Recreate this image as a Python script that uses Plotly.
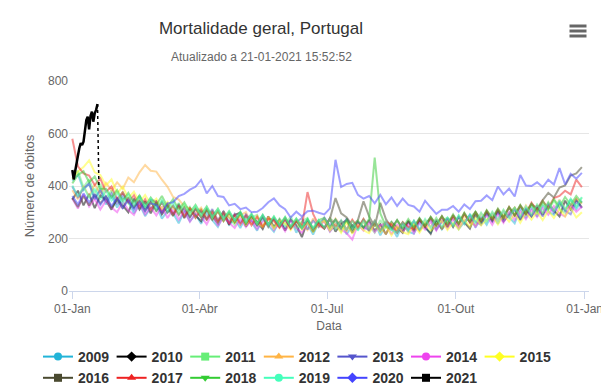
import plotly.graph_objects as go
import pandas as pd

# The page body adds an 8px margin, so the figure is drawn 8px smaller and
# every reference pixel position is converted with OFF.
OFF = 8
W, H = 609 - OFF, 389 - OFF
PLOT_L, PLOT_R, PLOT_T, PLOT_B = 69, 589, 81, 291          # reference pixels
ML = PLOT_L - OFF
MR = W - (PLOT_R - OFF)
MT = PLOT_T - OFF
MB = H - (PLOT_B - OFF)
PW = PLOT_R - PLOT_L
PH = PLOT_B - PLOT_T


def fx(px):
    return (px - PLOT_L) / PW


def fy(py):
    return (PLOT_B - py) / PH


def cx(px):
    return (px - OFF) / W


def cy(py):
    return 1 - (py - OFF) / H


FONT = "Liberation Sans, Arial, sans-serif"

# ---------------- data ----------------
BASE = pd.Timestamp("2020-01-01")
step_days = list(range(0, 365, 4))          # one reading every 4 days
dates = [BASE + pd.Timedelta(days=d) for d in step_days]
dates_2021 = [BASE + pd.Timedelta(days=d) for d in range(20)]

years = [2009, 2010, 2011, 2012, 2013, 2014, 2015, 2016, 2017, 2018, 2019, 2020, 2021]

colors = {
    2009: "#22b4d8", 2010: "#000000", 2011: "#66ee77", 2012: "#ffb444",
    2013: "#5555cc", 2014: "#ee44ee", 2015: "#ffff22", 2016: "#4a4a30",
    2017: "#ee2222", 2018: "#33cc33", 2019: "#44ffbb", 2020: "#4444ff",
    2021: "#000000",
}
symbols = {
    2009: "circle", 2010: "diamond", 2011: "square", 2012: "triangle-up",
    2013: "triangle-down", 2014: "circle", 2015: "diamond", 2016: "square",
    2017: "triangle-up", 2018: "triangle-down", 2019: "circle", 2020: "diamond",
    2021: "square",
}

# rows: Jan, Feb, Mar, Apr, May, Jun, Jul, Aug, Sep, Oct, Nov, Dec
y2009 = [420, 445, 385, 410, 350, 392, 330, 362,
         318, 356, 342, 296, 330, 285, 318,
         326, 276, 305, 296, 258, 304, 266, 292,
         256, 296, 270, 244, 290, 252, 274,
         240, 284, 262, 230, 276, 250, 226, 268,
         240, 275, 222, 262, 254, 215, 262,
         270, 228, 252, 266, 216, 250, 236, 272,
         228, 262, 212, 250, 244, 206, 258, 226,
         218, 264, 240, 222, 270, 234, 262,
         278, 236, 264, 290, 242, 282, 252, 296,
         256, 302, 282, 258, 316, 278, 320,
         284, 326, 302, 290, 340, 306, 350, 312, 344]
y2010 = [348, 382, 326, 370, 316, 364, 346, 310,
         352, 326, 300, 352, 310, 342, 296,
         338, 292, 322, 286, 332, 278, 316, 288,
         266, 312, 284, 258, 304, 252, 290,
         298, 246, 280, 264, 236, 284, 244, 272,
         230, 272, 250, 205, 268, 226, 262,
         238, 276, 226, 256, 270, 222, 262, 240,
         268, 230, 254, 216, 262, 240, 222, 266,
         228, 270, 246, 218, 272, 236, 278,
         244, 282, 262, 238, 292, 256, 298, 266,
         304, 266, 290, 316, 270, 310, 284,
         326, 290, 334, 306, 284, 344, 310, 348, 318]
y2011 = [430, 458, 395, 425, 372, 408, 352, 384,
         340, 378, 334, 315, 364, 312, 350,
         302, 344, 318, 290, 336, 286, 320, 280,
         314, 270, 306, 258, 298, 280, 252,
         296, 252, 280, 290, 244, 280, 238, 276,
         250, 284, 236, 266, 278, 230, 270,
         240, 278, 258, 228, 274, 246, 234, 274,
         248, 222, 270, 240, 264, 220, 262, 238,
         268, 230, 258, 278, 236, 268, 280,
         248, 288, 262, 282, 300, 256, 294, 272,
         308, 270, 298, 318, 280, 310, 326,
         290, 332, 308, 344, 312, 298, 350, 322, 356]
y2012 = [384, 350, 400, 360, 406, 370, 412, 384,
         414, 390, 432, 414, 452, 480, 458,
         455, 424, 397, 358, 348, 322, 316, 298,
         318, 278, 306, 270, 302, 280, 262,
         288, 300, 254, 286, 248, 282, 264, 240,
         278, 240, 272, 252, 232, 276, 244,
         268, 236, 276, 248, 228, 268, 240, 262,
         228, 264, 242, 218, 258, 234, 262, 224,
         258, 230, 270, 244, 278, 238, 266,
         280, 244, 288, 262, 250, 296, 266, 300,
         270, 308, 280, 318, 288, 326, 292,
         328, 296, 338, 306, 348, 312, 324, 352, 332]
y2013 = [398, 358, 390, 410, 350, 384, 340, 372,
         330, 368, 340, 318, 360, 314, 346,
         342, 302, 334, 294, 324, 308, 282, 312,
         302, 274, 312, 268, 302, 262, 294,
         260, 292, 268, 250, 288, 256, 274, 244,
         270, 238, 262, 278, 234, 268, 244,
         280, 250, 272, 240, 276, 236, 262, 244,
         232, 264, 228, 258, 240, 222, 260, 232,
         266, 232, 256, 272, 234, 264, 274,
         250, 282, 256, 290, 264, 252, 296, 264,
         300, 266, 290, 308, 276, 314, 284,
         318, 284, 328, 298, 338, 306, 292, 342, 316]
y2014 = [352, 314, 368, 322, 350, 310, 344, 318,
         300, 340, 308, 290, 334, 292, 318,
         288, 322, 278, 312, 272, 304, 264, 296,
         284, 254, 296, 248, 282, 260, 240,
         276, 244, 270, 236, 264, 274, 232, 262,
         228, 268, 240, 222, 262, 234, 256,
         264, 226, 256, 234, 220, 196, 254, 230,
         260, 224, 250, 258, 216, 252, 226, 254,
         220, 258, 234, 264, 230, 268, 238,
         274, 240, 268, 280, 244, 276, 286, 252,
         292, 260, 300, 270, 304, 274, 310,
         282, 316, 290, 324, 294, 284, 328, 302, 322]
y2015 = [425, 455, 472, 498, 452, 442, 402, 425,
         372, 398, 354, 378, 338, 366, 330,
         352, 312, 340, 316, 296, 330, 290, 318,
         282, 312, 274, 304, 266, 296, 260,
         290, 252, 282, 258, 244, 276, 238, 268,
         258, 232, 268, 234, 260, 226, 256,
         268, 230, 254, 222, 262, 218, 252, 232,
         220, 256, 224, 248, 212, 246, 224, 216,
         252, 222, 258, 230, 254, 266, 232,
         260, 234, 272, 244, 278, 250, 272, 284,
         254, 290, 264, 294, 260, 298, 272,
         302, 270, 306, 278, 312, 284, 316, 280, 300]
y2016 = [354, 320, 362, 326, 368, 334, 360, 316,
         350, 314, 356, 320, 344, 306, 340,
         306, 338, 298, 326, 290, 320, 282, 314,
         280, 310, 272, 304, 266, 298, 262,
         296, 256, 288, 250, 282, 244, 278, 248,
         278, 242, 266, 238, 272, 234, 262,
         240, 274, 354, 296, 280, 248, 270, 342,
         284, 246, 336, 274, 240, 270, 234, 266,
         240, 276, 246, 282, 250, 284, 244,
         288, 254, 294, 262, 300, 266, 304, 272,
         308, 278, 318, 286, 324, 292, 332,
         312, 346, 374, 356, 394, 402, 440, 448, 472]
y2017 = [580, 475, 448, 440, 404, 428, 378, 398,
         350, 376, 338, 364, 320, 350, 310,
         340, 300, 328, 292, 322, 284, 314, 278,
         308, 272, 300, 264, 296, 258, 290,
         254, 288, 250, 282, 244, 276, 268, 242,
         274, 238, 268, 246, 377, 294, 250,
         238, 276, 242, 268, 234, 272, 240, 274,
         236, 268, 230, 264, 252, 224, 262, 244,
         236, 274, 244, 278, 250, 284, 250,
         288, 256, 296, 262, 302, 266, 306, 274,
         312, 280, 320, 288, 326, 294, 336,
         306, 344, 316, 354, 362, 382, 368, 424, 396]
y2018 = [410, 442, 456, 414, 436, 390, 390, 356,
         384, 344, 374, 336, 364, 324, 356,
         328, 362, 320, 350, 310, 338, 300, 328,
         292, 322, 284, 314, 276, 304, 270,
         302, 264, 294, 258, 290, 254, 284, 250,
         282, 246, 276, 242, 274, 240, 270,
         278, 242, 272, 238, 270, 236, 268, 242,
         274, 508, 296, 246, 234, 270, 240, 274,
         244, 278, 248, 282, 252, 286, 256,
         292, 258, 298, 266, 302, 270, 308, 278,
         314, 282, 320, 290, 328, 296, 332,
         302, 342, 312, 350, 320, 358, 328, 362, 336]
y2019 = [402, 360, 396, 356, 390, 348, 382, 344,
         374, 334, 366, 326, 358, 320, 352,
         312, 346, 306, 338, 298, 330, 292, 324,
         286, 318, 280, 312, 274, 304, 268,
         300, 262, 294, 256, 290, 252, 284, 248,
         280, 244, 276, 240, 274, 238, 270,
         240, 274, 236, 270, 232, 268, 230, 266,
         236, 268, 228, 264, 232, 224, 260, 230,
         268, 236, 274, 240, 278, 244, 280,
         250, 288, 254, 292, 260, 298, 264, 302,
         272, 310, 278, 316, 284, 322, 290,
         330, 298, 338, 304, 346, 312, 352, 320, 358]
y2020 = [362, 330, 372, 338, 366, 328, 360, 324,
         354, 316, 346, 310, 340, 304, 334,
         328, 298, 334, 338, 362, 370, 386, 397,
         423, 372, 400, 362, 358, 326, 332,
         312, 318, 300, 302, 316, 338, 353, 326,
         312, 280, 302, 284, 304, 306, 298,
         292, 315, 500, 396, 408, 412, 366, 352,
         362, 334, 366, 330, 356, 324, 352, 328,
         322, 302, 344, 318, 294, 310, 310,
         324, 302, 330, 312, 342, 344, 364, 346,
         398, 368, 390, 360, 442, 402, 400,
         414, 396, 424, 406, 468, 406, 446, 428, 450]
y2021 = [461, 425, 455, 480, 515, 544, 563, 556, 569, 610,
         651, 664, 616, 667, 683, 645, 677, 690, 712, 397]

series = {
    2009: y2009, 2010: y2010, 2011: y2011, 2012: y2012, 2013: y2013,
    2014: y2014, 2015: y2015, 2016: y2016, 2017: y2017, 2018: y2018,
    2019: y2019, 2020: y2020,
}

y_ticks = [0, 200, 400, 600, 800]
x_tick_dates = ["2020-01-01", "2020-04-01", "2020-07-01", "2020-10-01", "2021-01-01"]
x_tick_text = ["01-Jan", "01-Abr", "01-Jul", "01-Out", "01-Jan"]

TITLE = "Mortalidade geral, Portugal"
SUBTITLE = "Atualizado a 21-01-2021 15:52:52"

# ---------------- figure ----------------
fig = go.Figure()

for yr, vals in series.items():
    n = min(len(vals), len(dates))
    fig.add_trace(go.Scatter(
        x=dates[:n], y=vals[:n], mode="lines", name=str(yr),
        line=dict(color=colors[yr], width=2), opacity=0.5,
        showlegend=False, hoverinfo="skip",
    ))

fig.add_trace(go.Scatter(
    x=dates_2021[:-1], y=y2021[:-1], mode="lines", name="2021",
    line=dict(color="#000000", width=2.5), showlegend=False, hoverinfo="skip",
))
fig.add_trace(go.Scatter(
    x=dates_2021[-2:], y=y2021[-2:], mode="lines", name="2021 (parcial)",
    line=dict(color="#000000", width=1.5, dash="dot"), showlegend=False, hoverinfo="skip",
))

# legend entries
for yr in years:
    fig.add_trace(go.Scatter(
        x=[None], y=[None], mode="lines+markers", name=str(yr),
        line=dict(color=colors[yr], width=2),
        marker=dict(color=colors[yr], symbol=symbols[yr], size=8),
        showlegend=True,
    ))

fig.update_layout(
    width=W, height=H,
    margin=dict(l=ML, r=MR, t=MT, b=MB, pad=0, autoexpand=False),
    paper_bgcolor="white", plot_bgcolor="white",
    font=dict(family=FONT, color="#666666", size=12),
    title=dict(text=TITLE, x=cx(261), xanchor="center", xref="container",
               y=cy(28), yanchor="middle", yref="container",
               font=dict(size=17, color="#333333", family=FONT)),
    showlegend=True,
    legend=dict(orientation="h", x=cx(38), xanchor="left", xref="container",
                y=cy(341), yanchor="top", yref="container",
                traceorder="normal", entrywidth=28.6, entrywidthmode="pixels",
                font=dict(size=14, color="#333333", family=FONT, weight="bold"),
                bgcolor="rgba(0,0,0,0)"),
    xaxis=dict(
        type="date", range=["2019-12-29 15:00", "2021-01-04 02:00"],
        tickvals=x_tick_dates, ticktext=x_tick_text,
        showgrid=False, zeroline=False,
        showline=True, linecolor="#ccd6eb", linewidth=1,
        ticks="outside", ticklen=7, tickcolor="#ccd6eb", tickwidth=1,
        ticklabelstandoff=0,
        tickfont=dict(size=12, color="#666666"),
        title=dict(text="Data", font=dict(size=12, color="#666666"), standoff=6),
        fixedrange=True,
    ),
    yaxis=dict(
        range=[0, 800], tickvals=y_ticks,
        showgrid=True, gridcolor="#e6e6e6", gridwidth=1,
        zeroline=False, showline=False, ticks="",
        tickfont=dict(size=12, color="#666666"),
        title=dict(text="Número de óbitos", font=dict(size=13, color="#666666"), standoff=10),
        fixedrange=True,
    ),
    annotations=[dict(
        text=SUBTITLE, xref="paper", yref="paper", x=fx(261), y=fy(57.5),
        xanchor="center", yanchor="middle", showarrow=False,
        font=dict(size=12, color="#666666", family=FONT),
    )],
    shapes=[
        dict(type="rect", xref="paper", yref="paper",
             x0=fx(569.5), x1=fx(586.5), y0=fy(c - 1.5), y1=fy(c + 1.5),
             fillcolor="#666666", line=dict(width=0))
        for c in (26, 31, 36)
    ],
)

fig.write_html("out.html")
